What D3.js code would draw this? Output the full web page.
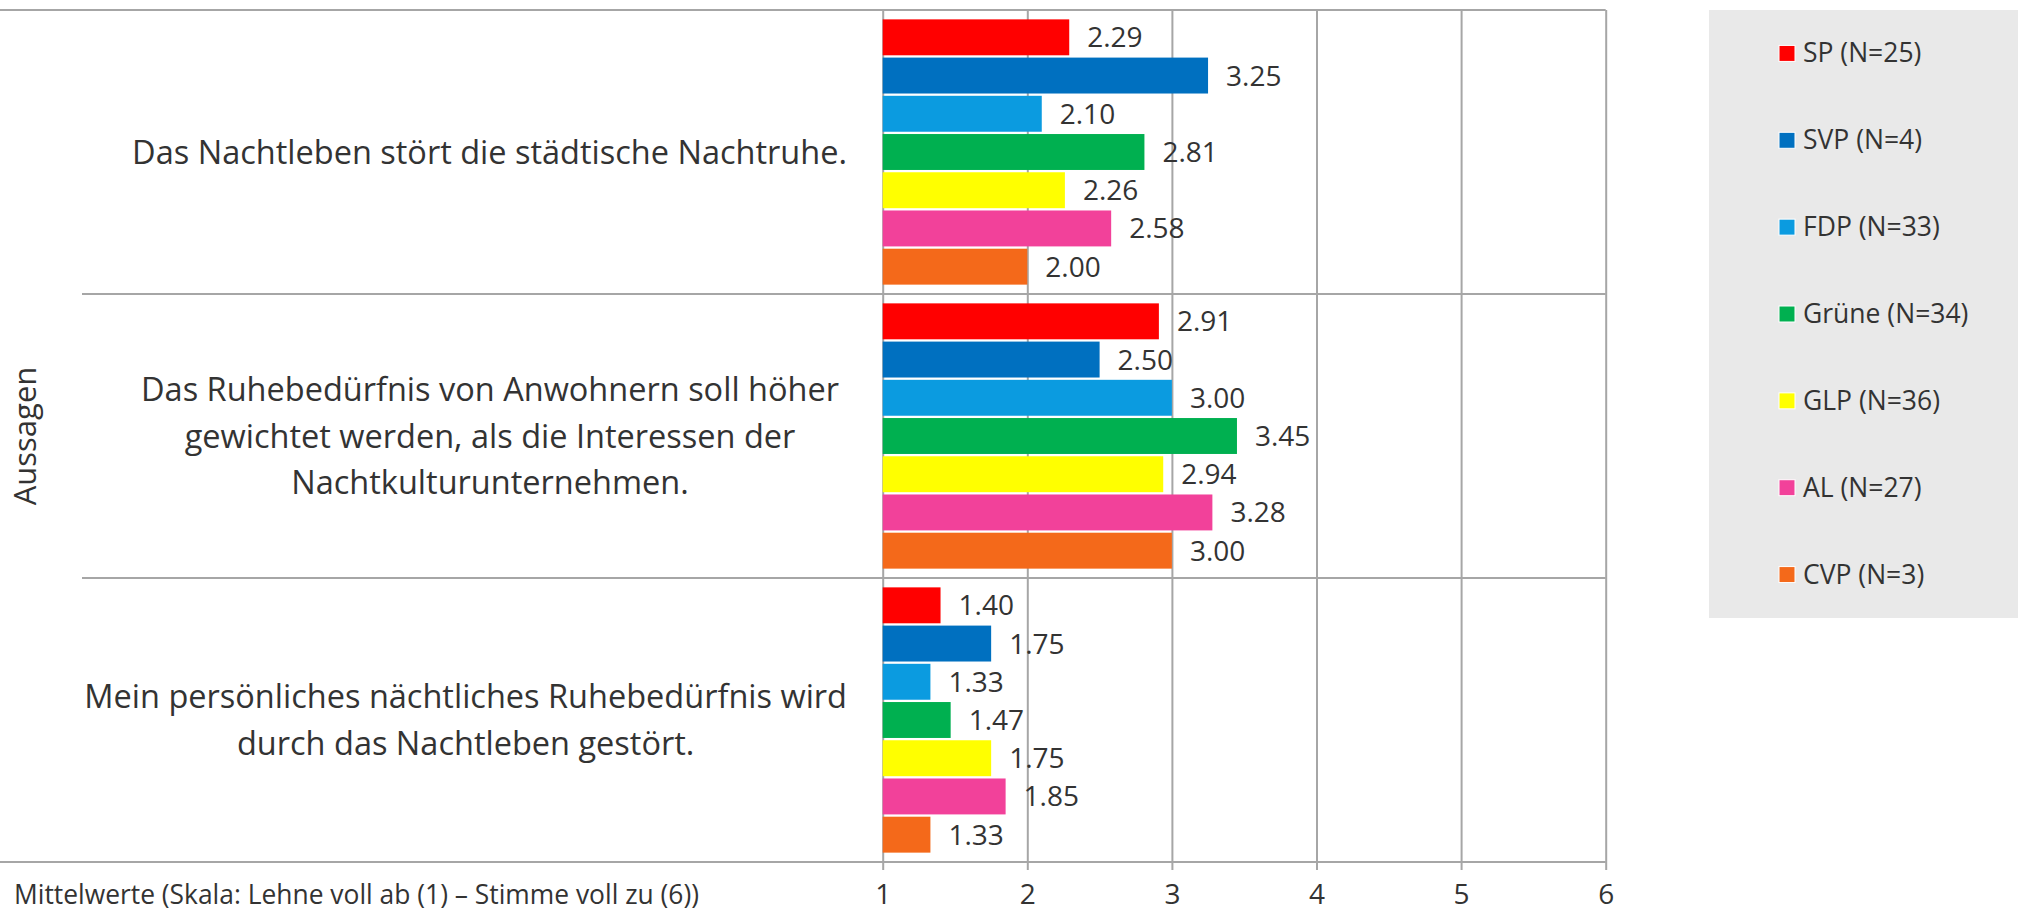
<!DOCTYPE html>
<html>
  <head>
    <meta charset="utf-8">
    <title>Nachtleben und Nachtruhe</title>
    <script src="https://cdnjs.cloudflare.com/ajax/libs/d3/7.8.5/d3.min.js" charset="utf-8"></script>
    <style>
      body { margin: 0; background-color: #FFF }
      svg { display: block; background-color: #FFF }
      text { fill: #333; font-family: 'Open Sans', sans-serif }
    </style>
  </head>
  <body>
    <svg width="2018" height="912"></svg>
    <script>
      // Aussagen (Zeilenumbrüche wie im Original)
      var statements = [
        ["Das Nachtleben stört die städtische Nachtruhe."],
        ["Das Ruhebedürfnis von Anwohnern soll höher", "gewichtet werden, als die Interessen der", "Nachtkulturunternehmen."],
        ["Mein persönliches nächtliches Ruhebedürfnis wird", "durch das Nachtleben gestört."]
      ];

      var parties = ["SP (N=25)", "SVP (N=4)", "FDP (N=33)", "Grüne (N=34)", "GLP (N=36)", "AL (N=27)", "CVP (N=3)"];
      var partyColors = ["#FF0000", "#0070C0", "#0B9BE0", "#00B050", "#FFFF00", "#F2419A", "#F4691A"];

      // Mittelwerte je Partei, eine Zahl pro Aussage
      var valuesSP = [2.29, 2.91, 1.40];
      var valuesSVP = [3.25, 2.50, 1.75];
      var valuesFDP = [2.10, 3.00, 1.33];
      var valuesGruene = [2.81, 3.45, 1.47];
      var valuesGLP = [2.26, 2.94, 1.75];
      var valuesAL = [2.58, 3.28, 1.85];
      var valuesCVP = [2.00, 3.00, 1.33];

      var xTicks = [1, 2, 3, 4, 5, 6];
      var xTitle = "Mittelwerte (Skala: Lehne voll ab (1) – Stimme voll zu (6))";
      var yTitle = "Aussagen";

      var series = [valuesSP, valuesSVP, valuesFDP, valuesGruene, valuesGLP, valuesAL, valuesCVP];

      var svg = d3.select("svg");
      var gridColor = "#A6A6A6";
      var plotTop = 10, plotBottom = 862;

      var x = d3.scaleLinear().domain([1, 6]).range([882.7, 1605.7]);
      var y0 = d3.scaleBand().domain(d3.range(statements.length)).range([plotTop, plotBottom]);
      var y1 = d3.scaleBand().domain(parties).range([0, y0.bandwidth()])
        .paddingInner(0.06).paddingOuter(0.245);

      // vertikale Gitterlinien + Achsenbeschriftung
      var xAxis = svg.append("g")
        .attr("transform", "translate(0," + plotBottom + ")")
        .call(d3.axisBottom(x).tickValues(xTicks).tickFormat(d3.format("d"))
          .tickSize(-(plotBottom - plotTop)).tickSizeOuter(0));
      xAxis.select(".domain").remove();
      xAxis.selectAll(".tick line")
        .attr("y1", 8)
        .attr("stroke", gridColor)
        .attr("stroke-width", 2);
      xAxis.selectAll(".tick text")
        .attr("y", 41.5).attr("dy", null)
        .style("font-family", "'Open Sans'")
        .style("font-size", "28px")
        .style("fill", "#333");

      // horizontale Linien
      svg.append("g").selectAll("line")
        .data([plotTop, plotBottom])
        .enter().append("line")
        .attr("x1", 0).attr("x2", x(6))
        .attr("y1", function(d) { return d; }).attr("y2", function(d) { return d; })
        .attr("stroke", gridColor).attr("stroke-width", 2);

      svg.append("g").selectAll("line")
        .data(d3.range(1, statements.length))
        .enter().append("line")
        .attr("x1", 82).attr("x2", x(6))
        .attr("y1", function(d) { return y0(d); }).attr("y2", function(d) { return y0(d); })
        .attr("stroke", gridColor).attr("stroke-width", 2);

      // Balken
      var groups = svg.append("g").selectAll("g")
        .data(statements)
        .enter().append("g")
        .attr("transform", function(d, i) { return "translate(0," + y0(i) + ")"; });

      groups.each(function(s, i) {
        var g = d3.select(this);
        var rows = parties.map(function(p, j) { return { party: p, value: series[j][i], color: partyColors[j] }; });

        g.selectAll("rect")
          .data(rows)
          .enter().append("rect")
          .attr("x", x(1))
          .attr("y", function(d) { return y1(d.party); })
          .attr("width", function(d) { return x(d.value) - x(1); })
          .attr("height", y1.bandwidth())
          .attr("fill", function(d) { return d.color; });

        g.selectAll("text.value")
          .data(rows)
          .enter().append("text")
          .attr("class", "value")
          .attr("x", function(d) { return x(d.value) + 18; })
          .attr("y", function(d) { return y1(d.party) + y1.bandwidth() / 2 + 10; })
          .style("font-size", "28px")
          .text(function(d) { return d.value.toFixed(2); });
      });

      // Beschriftung der Aussagen
      var lineGap = 46.3;
      statements.forEach(function(lines, i) {
        var center = y0(i) + y0.bandwidth() / 2;
        var label = svg.append("text")
          .attr("text-anchor", "middle")
          .style("font-size", "32.5px");
        lines.forEach(function(line, k) {
          label.append("tspan")
            .attr("y", center - (lines.length - 1) * lineGap / 2 + k * lineGap + 11.5)
            .text(line);
        });
        var widest = d3.max(label.selectAll("tspan").nodes(), function(n) { return n.getComputedTextLength(); });
        var cx = Math.min(490, 847 - widest / 2);
        label.selectAll("tspan").attr("x", cx);
      });

      // Achsentitel
      svg.append("text")
        .attr("x", 14).attr("y", 904)
        .style("font-size", "26.4px")
        .text(xTitle);

      svg.append("text")
        .attr("transform", "translate(36," + (plotTop + plotBottom) / 2 + ") rotate(-90)")
        .attr("text-anchor", "middle")
        .style("font-size", "31px")
        .text(yTitle);

      // Legende
      var legendTop = 10, legendBottom = 618;
      var ly = d3.scaleBand().domain(parties).range([legendTop, legendBottom]);

      svg.append("rect")
        .attr("x", 1709).attr("y", legendTop)
        .attr("width", 2018 - 1709).attr("height", legendBottom - legendTop)
        .attr("fill", "#E9E9E9");

      var items = svg.append("g").selectAll("g")
        .data(parties)
        .enter().append("g")
        .attr("transform", function(d) { return "translate(0," + (ly(d) + ly.bandwidth() / 2) + ")"; });

      items.append("rect")
        .attr("x", 1779).attr("y", -8)
        .attr("width", 16).attr("height", 16)
        .attr("fill", function(d, i) { return partyColors[i]; })
        .attr("stroke", "#FFF").attr("stroke-width", 1);

      items.append("text")
        .attr("x", 1803).attr("y", 9)
        .style("font-size", "26.5px")
        .text(function(d) { return d; });
    </script>
  </body>
</html>
